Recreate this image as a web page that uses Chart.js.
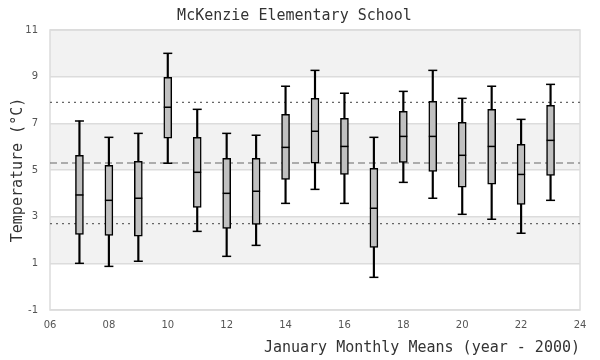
<!DOCTYPE html>
<html>
<head>
<meta charset="utf-8">
<script src="https://cdn.jsdelivr.net/npm/chart.js@4/dist/chart.umd.min.js"></script>
<style>
  html, body { margin: 0; padding: 0; background: #fff; }
  #wrap { width: 600px; height: 360px; }
</style>
</head>
<body>
<div id="wrap"><canvas id="chart" width="600" height="360"></canvas></div>
<script>
// january monthly means, one box per year (year - 2000)
const years   = [7, 8, 9, 10, 11, 12, 13, 14, 15, 16, 17, 18, 19, 20, 21, 22, 23];
const lows    = [1.0, 0.87, 1.09, 5.29, 2.37, 1.3, 1.77, 3.57, 4.17, 3.57, 0.4, 4.47, 3.79, 3.1, 2.89, 2.29, 3.7];
const q1s     = [2.24, 2.2, 2.16, 6.36, 3.4, 2.5, 2.67, 4.6, 5.29, 4.81, 1.68, 5.33, 4.94, 4.26, 4.39, 3.53, 4.77];
const medians = [3.93, 3.7, 3.79, 7.69, 4.9, 4.0, 4.09, 5.97, 6.66, 6.01, 3.36, 6.44, 6.44, 5.63, 6.01, 4.81, 6.27];
const q3s     = [5.63, 5.2, 5.37, 8.97, 6.4, 5.5, 5.5, 7.39, 8.07, 7.21, 5.07, 7.51, 7.94, 7.04, 7.6, 6.1, 7.77];
const highs   = [7.1, 6.4, 6.57, 10.0, 7.6, 6.57, 6.49, 8.59, 9.27, 8.29, 6.4, 8.37, 9.27, 8.07, 8.59, 7.17, 8.67];

const upperRef = 7.9;
const meanRef = 5.3;
const lowerRef = 2.7;

const xMin = 6, xMax = 24;
const yMin = -1, yMax = 11;

const mono = "'DejaVu Sans Mono', 'Liberation Mono', monospace";

function refLine(value, dash) {
    return {
        type: 'line',
        data: [{ x: xMin, y: value }, { x: xMax, y: value }],
        borderColor: '#666',
        borderWidth: 1.2,
        borderDash: dash,
        pointRadius: 0,
        order: 10
    };
}

// light bands behind every other gridline pair, plus the plot frame
const bandsPlugin = {
    id: 'bands',
    beforeDraw(chart) {
        const { ctx, chartArea, scales } = chart;
        const y = scales.y;
        ctx.save();
        ctx.fillStyle = '#f2f2f2';
        for (let v = 1; v < yMax; v += 4) {
            const top = y.getPixelForValue(v + 2);
            const bottom = y.getPixelForValue(v);
            ctx.fillRect(chartArea.left, top, chartArea.right - chartArea.left, bottom - top);
        }
        ctx.restore();
    },
    beforeDatasetsDraw(chart) {
        const { ctx, chartArea } = chart;
        ctx.save();
        ctx.strokeStyle = '#dcdcdc';
        ctx.lineWidth = 1.5;
        ctx.strokeRect(chartArea.left, chartArea.top, chartArea.right - chartArea.left, chartArea.bottom - chartArea.top);
        ctx.restore();
    }
};

const ctx = document.getElementById('chart').getContext('2d');
new Chart(ctx, {
    type: 'bar',
    data: {
        datasets: [
            {
                type: 'scatter',
                data: years.map((yr, i) => ({ x: yr, y: medians[i] })),
                pointStyle: 'line',
                pointRadius: 4,
                pointBorderColor: '#000',
                pointBorderWidth: 1.5,
                order: 0
            },
            {
                type: 'bar',
                data: years.map((yr, i) => ({ x: yr, y: [q1s[i], q3s[i]] })),
                backgroundColor: '#c0c0c0',
                borderColor: '#000',
                borderWidth: 1.5,
                borderSkipped: false,
                barThickness: 8,
                grouped: false,
                order: 1
            },
            {
                type: 'scatter',
                data: years.flatMap((yr, i) => [{ x: yr, y: lows[i] }, { x: yr, y: highs[i] }]),
                pointStyle: 'line',
                pointRadius: 4.5,
                pointBorderColor: '#000',
                pointBorderWidth: 1.5,
                order: 2
            },
            {
                type: 'bar',
                data: years.map((yr, i) => ({ x: yr, y: [lows[i], highs[i]] })),
                backgroundColor: '#000',
                borderWidth: 0,
                barThickness: 1.5,
                grouped: false,
                order: 3
            },
            refLine(upperRef, [2, 4]),
            refLine(meanRef, [7, 4]),
            refLine(lowerRef, [2, 4])
        ]
    },
    options: {
        responsive: false,
        animation: false,
        layout: { padding: { left: 9, right: 20, top: 0, bottom: 3 } },
        plugins: {
            legend: { display: false },
            tooltip: { enabled: false },
            title: {
                display: true,
                text: 'McKenzie Elementary School',
                color: '#333',
                font: { family: mono, size: 15, weight: 'normal' },
                padding: { top: 7, bottom: 5 }
            }
        },
        scales: {
            x: {
                type: 'linear',
                min: xMin,
                max: xMax,
                offset: false,
                grid: { display: false, offset: false, drawTicks: false },
                border: { display: false },
                ticks: {
                    stepSize: 2,
                    color: '#555',
                    font: { family: 'DejaVu Sans', size: 10 },
                    padding: 9,
                    maxRotation: 0,
                    callback: v => String(v).padStart(2, '0')
                },
                title: {
                    display: true,
                    text: 'January Monthly Means (year - 2000)',
                    align: 'end',
                    color: '#333',
                    font: { family: mono, size: 15 },
                    padding: { top: 6, bottom: 0 }
                },
                afterFit(scale) { scale.height = 47; }
            },
            y: {
                min: yMin,
                max: yMax,
                grid: { color: '#dcdcdc', lineWidth: 1.5, drawTicks: false },
                border: { display: false },
                ticks: {
                    stepSize: 2,
                    color: '#555',
                    font: { family: 'DejaVu Sans', size: 10 },
                    padding: 12
                },
                title: {
                    display: true,
                    text: 'Temperature (°C)',
                    color: '#333',
                    font: { family: mono, size: 15 },
                    padding: { top: 0, bottom: 0 }
                },
                afterFit(scale) { scale.width = 41; }
            }
        }
    },
    plugins: [bandsPlugin]
});
</script>
</body>
</html>
